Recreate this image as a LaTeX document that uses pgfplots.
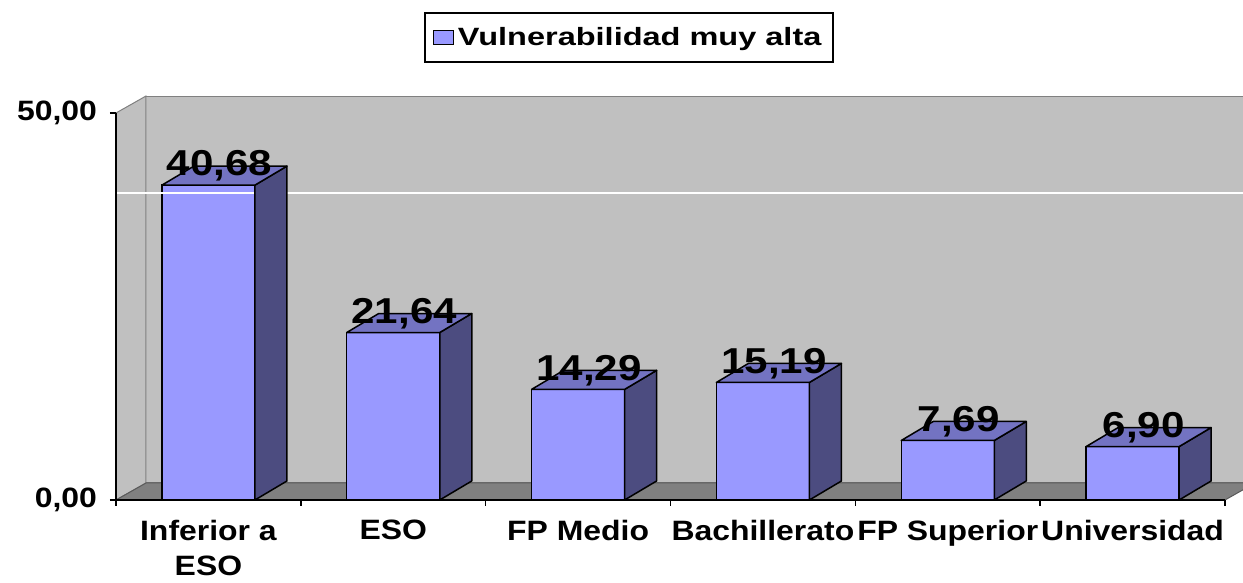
\documentclass[border=0pt]{standalone}
\usepackage{pgfplots}
\usepackage{pgfplotstable}
\pgfplotsset{compat=1.18}
\usepackage{fontspec}
\setmainfont{Liberation Sans}
\newfontfamily\tickfont{Liberation Sans}[FakeStretch=1.14]
\newfontfamily\catfont{Liberation Sans}[FakeStretch=1.14]
\newfontfamily\legfont{Liberation Sans}[FakeStretch=1.3]
\newfontfamily\datafont{Liberation Sans}[FakeStretch=1.17]
\definecolor{barfront}{HTML}{9999FF}
\definecolor{barside}{HTML}{4C4C80}
\definecolor{bartop}{HTML}{7373C2}
\definecolor{wallc}{HTML}{C0C0C0}
\definecolor{floorc}{HTML}{808080}

\pgfplotstableread{
x v
0.5 40.68
1.5 21.64
2.5 14.29
3.5 15.19
4.5 7.69
5.5 6.90
}\datatab

\def\hval{0}
% side and top faces of a 3D bar, drawn from the top-front centre of the bar
\pgfdeclareplotmark{box3d}{%
  \pgfmathsetlengthmacro\barH{\hval*3.87pt}%
  \pgfsetlinewidth{0.75pt}%
  \pgfsetroundjoin
  \pgfsetstrokecolor{black}%
  \pgfpathmoveto{\pgfqpoint{23.25pt}{0pt}}%
  \pgfpathlineto{\pgfqpoint{39.25pt}{9.5pt}}%
  \pgfpathlineto{\pgfpointadd{\pgfqpoint{39.25pt}{9.5pt}}{\pgfqpoint{0pt}{-\barH}}}%
  \pgfpathlineto{\pgfqpoint{23.25pt}{-\barH}}%
  \pgfpathclose
  \pgfsetfillcolor{barside}%
  \pgfusepath{fill,stroke}%
  \pgfpathmoveto{\pgfqpoint{-23.25pt}{0pt}}%
  \pgfpathlineto{\pgfqpoint{-7.25pt}{9.5pt}}%
  \pgfpathlineto{\pgfqpoint{39.25pt}{9.5pt}}%
  \pgfpathlineto{\pgfqpoint{23.25pt}{0pt}}%
  \pgfpathclose
  \pgfsetfillcolor{bartop}%
  \pgfusepath{fill,stroke}%
}

\begin{document}
\begin{tikzpicture}
\begin{axis}[
  scale only axis,
  width=554.5pt, height=193.5pt,
  xmin=0, xmax=6, ymin=0, ymax=50,
  clip=false,
  axis on top,
  axis x line*=bottom, axis y line*=left,
  axis line style={black, line width=0.75pt},
  tick align=outside,
  major tick length=3pt,
  tick style={black, line width=0.75pt},
  xtick={0,1,...,6},
  xticklabels={},
  extra x ticks={0.5,1.5,2.5,3.5,4.5,5.5},
  extra x tick labels={{Inferior a\\ESO},ESO,FP Medio,Bachillerato,FP Superior,Universidad},
  extra x tick style={major tick length=0pt,
     xticklabel style={font=\catfont\bfseries\fontsize{14pt}{17.5pt}\selectfont, align=center, anchor=north, text=black, yshift=-6.5pt}},
  ytick={0,50},
  yticklabel={\pgfmathprintnumber[fixed,zerofill,precision=2,use comma,assume math mode=true]{\tick}},
  yticklabel style={font=\tickfont\bfseries\fontsize{14pt}{16pt}\selectfont, text=black, xshift=-3pt},
  legend style={at={(0.4626,1.261)}, anchor=north, draw=black, line width=1pt, fill=white,
     font=\legfont\bfseries\fontsize{12.5pt}{15pt}\selectfont, inner xsep=4pt, inner ysep=5pt},
  legend image code/.code={\draw[fill=barfront, draw=black, line width=0.6pt] (0pt,-3.5pt) rectangle (10pt,3.5pt);},
]
\fill[wallc, draw=floorc, line width=0.5pt] ([shift={(15pt,8.5pt)}]axis cs:0,0) rectangle ([shift={(15pt,8.5pt)}]axis cs:6,50);
\fill[wallc, draw=floorc, line width=0.5pt] (axis cs:0,0) -- (axis cs:0,50) -- ([shift={(15pt,8.5pt)}]axis cs:0,50) -- ([shift={(15pt,8.5pt)}]axis cs:0,0) -- cycle;
\fill[floorc, draw=floorc!70!black, line width=0.5pt] (axis cs:0,0) -- ([shift={(15pt,8.5pt)}]axis cs:0,0) -- ([shift={(15pt,8.5pt)}]axis cs:6,0) -- (axis cs:6,0) -- cycle;

\addplot[ybar, bar width=0.5032, bar shift=0pt, fill=barfront, draw=black, line width=0.75pt] table[x=x,y=v]{\datatab};
\addlegendentry{Vulnerabilidad muy alta}

\addplot[only marks, mark=box3d, forget plot,
  visualization depends on={\thisrow{v}\as\hval},
  nodes near coords={\pgfmathprintnumber[fixed,zerofill,precision=2,use comma,assume math mode=true]{\pgfplotspointmeta}},
  nodes near coords style={font=\datafont\bfseries\fontsize{18pt}{20pt}\selectfont, anchor=center, xshift=5.5pt, yshift=9.5pt, text=black}]
  table[x=x,y=v]{\datatab};

\draw[white, line width=0.6pt] (axis cs:0,39.66) -- (axis cs:6.2,39.66);
\end{axis}
\pgfresetboundingbox
\useasboundingbox (-58pt,-41.5pt) rectangle (563.5pt,250pt);
\end{tikzpicture}
\end{document}
